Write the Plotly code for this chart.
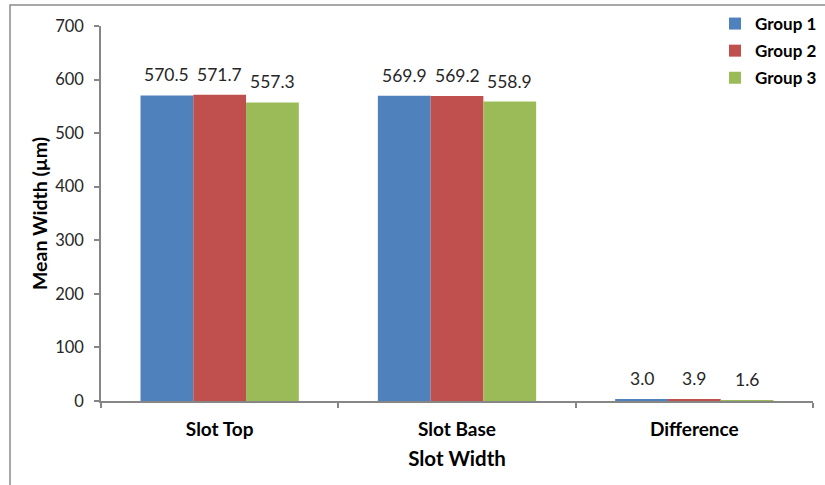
import plotly.graph_objects as go

categories = ["Slot Top", "Slot Base", "Difference"]
group1 = [570.5, 569.9, 3.0]
group2 = [571.7, 569.2, 3.9]
group3 = [557.3, 558.9, 1.6]
series_names = ["Group 1", "Group 2", "Group 3"]
colors = ["#4F81BD", "#C0504D", "#9BBB59"]

FONT = "Lato"
W, H = 825, 485
L, R, T, B = 101, 12, 26, 84
pw, ph = W - L - R, H - T - B
BARGAP = 0.333
bar_px = pw / len(categories) * (1 - BARGAP) / len(series_names)

fig = go.Figure()
all_vals = [group1, group2, group3]
for name, vals, col in zip(series_names, all_vals, colors):
    fig.add_trace(go.Bar(
        x=categories, y=vals, name=name, marker=dict(color=col, line=dict(width=0)),
        legendgroup=name,
    ))

# data labels above each bar
for i, vals in enumerate(all_vals):
    for cat, v in zip(categories, vals):
        fig.add_annotation(
            x=cat, y=v, xref="x", yref="y", text=f"{v:.1f}", showarrow=False,
            xanchor="center", yanchor="bottom",
            xshift=(i - (len(series_names) - 1) / 2) * bar_px, yshift=8,
            font=dict(family=FONT, size=17.5, color="#262626"),
        )

axis_col = "#868686"
fig.update_layout(
    width=W, height=H,
    margin=dict(l=L, r=R, t=T, b=B, autoexpand=False),
    paper_bgcolor="white", plot_bgcolor="white",
    barmode="group", bargap=BARGAP, bargroupgap=0,
    font=dict(family=FONT, color="#262626"),
    showlegend=True,
    legend=dict(xref="container", yref="container", x=715 / W, y=1 - 6 / H,
                xanchor="left", yanchor="top",
                font=dict(family=FONT, size=17, color="#000000", weight="bold"),
                tracegroupgap=2, bgcolor="rgba(0,0,0,0)"),
    xaxis=dict(
        showline=True, linecolor=axis_col, linewidth=1.5,
        ticks="outside", tickson="boundaries", ticklen=5, tickcolor=axis_col, tickwidth=1.5,
        ticklabelstandoff=10,
        tickfont=dict(family=FONT, size=19, color="#000000", weight="bold"),
        title=dict(text="Slot Width", font=dict(family=FONT, size=20.5, color="#000000", weight="bold"), standoff=13),
        showgrid=False,
    ),
    yaxis=dict(
        range=[0, 700], dtick=100, showline=True, linecolor=axis_col, linewidth=1.5,
        ticks="outside", ticklen=5, tickcolor=axis_col, tickwidth=1.5,
        ticklabelstandoff=7,
        tickfont=dict(family=FONT, size=16.5, color="#262626"),
        title=dict(text="Mean Width (µm)", font=dict(family=FONT, size=19.5, color="#000000", weight="bold"), standoff=2),
        showgrid=False, zeroline=False,
    ),
)

# outer chart frame (cut off at right and bottom in the reference)
fig.add_shape(type="rect", xref="paper", yref="paper",
              x0=(10 - L) / pw, x1=1 + (R + 20) / pw,
              y0=-(B + 20) / ph, y1=1 + (T - 5) / ph,
              line=dict(color="#8C8C8C", width=1.5), fillcolor="rgba(0,0,0,0)", layer="below")

fig.write_html("out.html")
